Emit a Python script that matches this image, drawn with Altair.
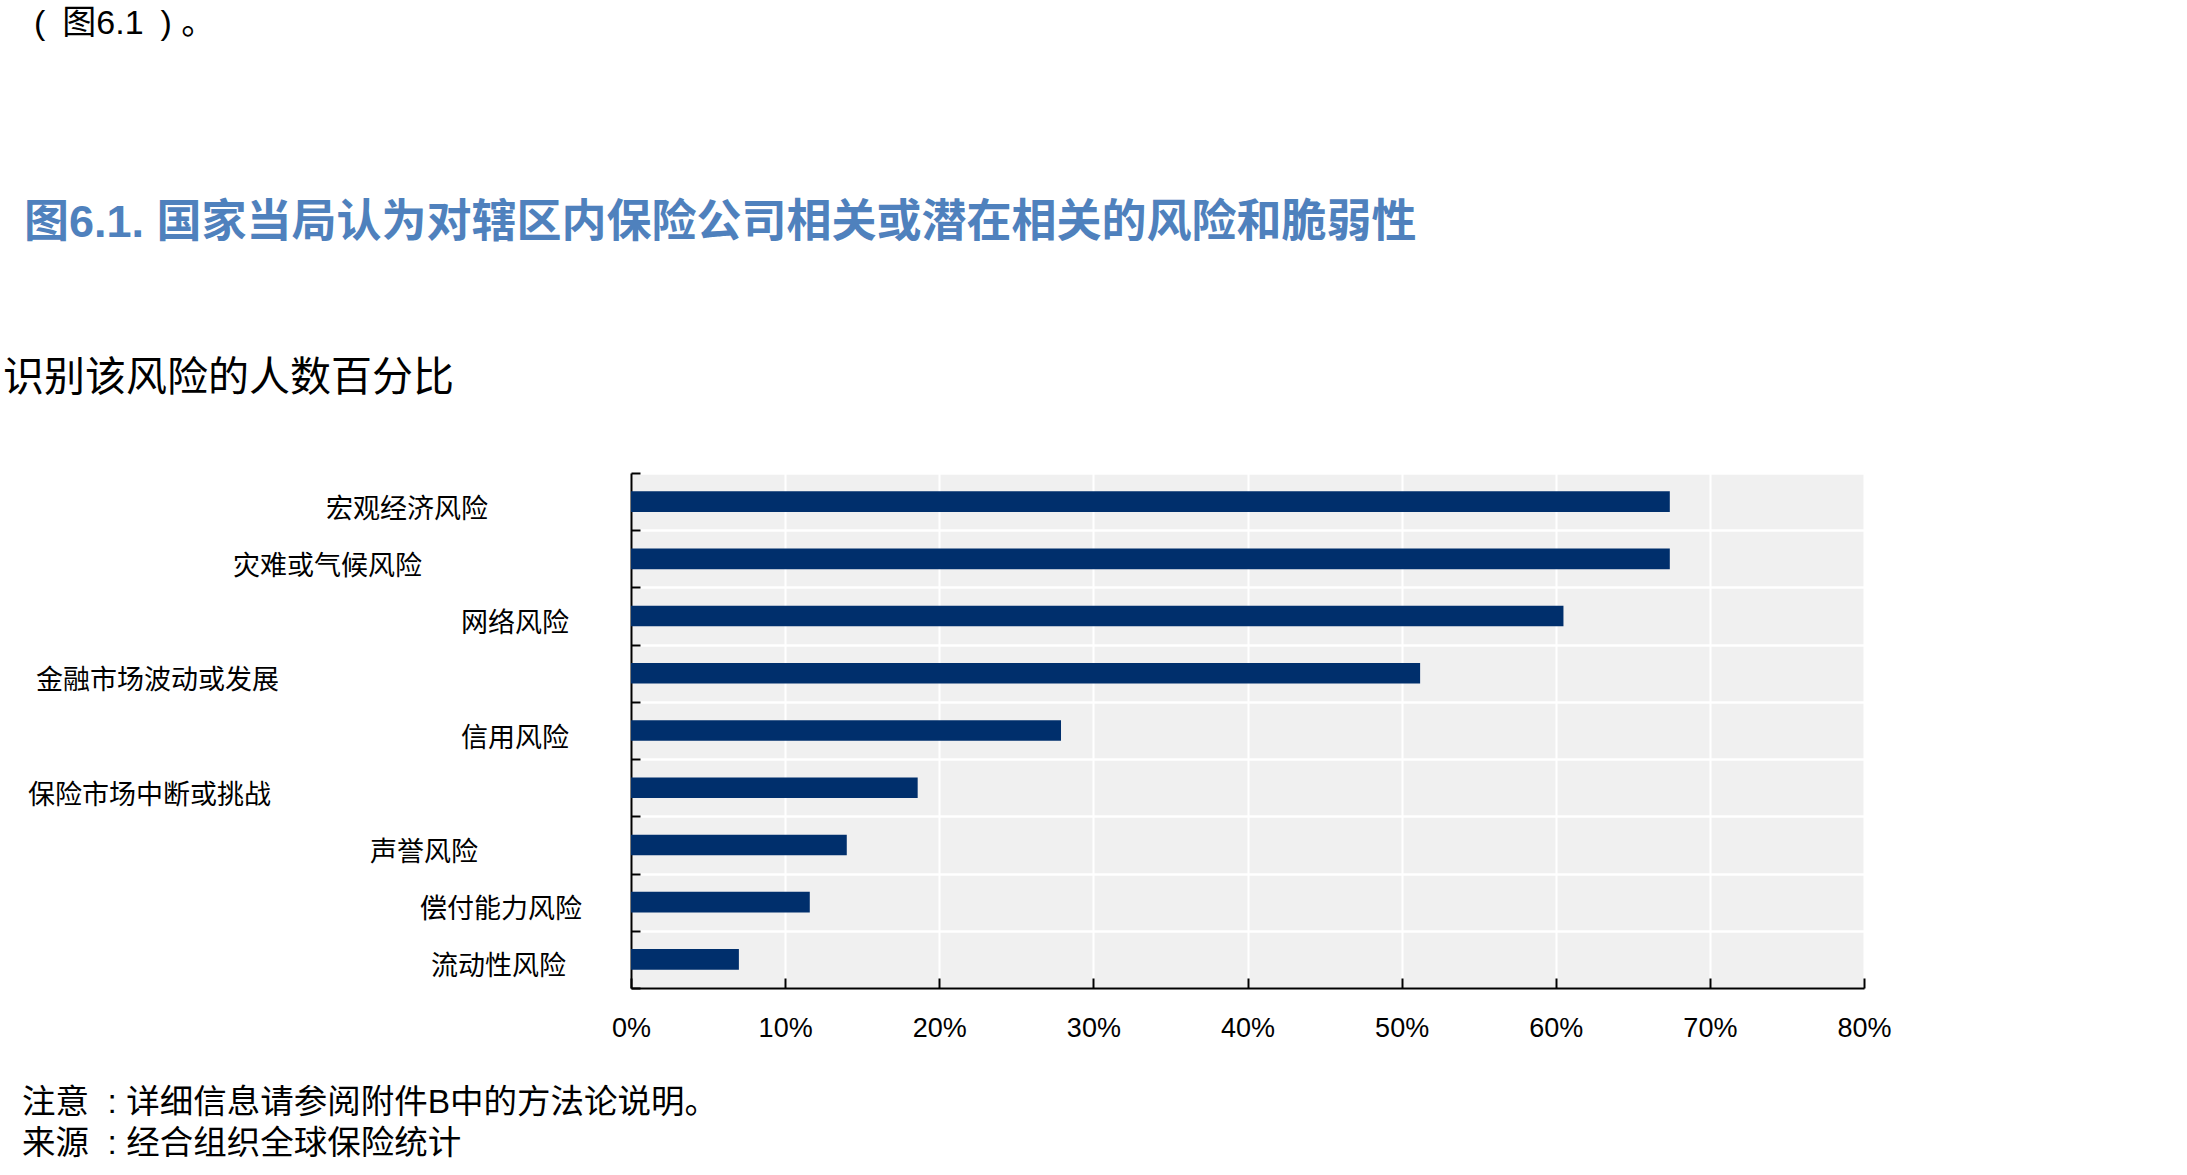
import altair as alt
import pandas as pd

# ---------------- data ----------------
categories = [
    "宏观经济风险",
    "灾难或气候风险",
    "网络风险",
    "金融市场波动或发展",
    "信用风险",
    "保险市场中断或挑战",
    "声誉风险",
    "偿付能力风险",
    "流动性风险",
]
shares = [67.4, 67.4, 60.5, 51.2, 27.9, 18.6, 14.0, 11.6, 7.0]
x_ticks = [0, 10, 20, 30, 40, 50, 60, 70, 80]

NB = "\u00a0"
EN = "\u2002"
top_line = f"({EN}图6.1{EN}){NB}。"
title_text = "图6.1. 国家当局认为对辖区内保险公司相关或潜在相关的风险和脆弱性"
subtitle_text = "识别该风险的人数百分比"
note_text = f"注意{NB}{NB}:{NB}详细信息请参阅附件B中的方法论说明。"
source_text = f"来源{NB}{NB}:{NB}经合组织全球保险统计"

# ---------------- style ----------------
W, H = 1233, 515
LEFT, TOP = 631, 473
FONT = "Liberation Sans, Noto Sans CJK SC, sans-serif"
NARROW = "Liberation Sans Narrow, Arial Narrow, Liberation Sans, sans-serif"
BAR = "#002F6C"
BG = "#F0F0F0"
BLUE = "#4F81BD"

# gap (px) between the y-axis line and the right edge of each category label
label_gap = {
    "宏观经济风险": 143,
    "灾难或气候风险": 209,
    "网络风险": 62,
    "金融市场波动或发展": 352,
    "信用风险": 62,
    "保险市场中断或挑战": 360,
    "声誉风险": 153,
    "偿付能力风险": 49,
    "流动性风险": 65,
}
dx_expr = ""
for k, v in label_gap.items():
    dx_expr += f"datum.risk === '{k}' ? {-v} : "
dx_expr += "0"

df = pd.DataFrame({"risk": categories, "share": shares})

y_enc = alt.Y(
    "risk:N",
    sort=categories,
    scale=alt.Scale(paddingInner=0, paddingOuter=0),
    axis=alt.Axis(
        title=None,
        labels=False,
        tickBand="extent",
        grid=True,
        gridColor="white",
        gridWidth=2.5,
        domainColor="black",
        domainWidth=2,
        tickColor="black",
        tickWidth=2,
        tickSize={"expr": "-9"},
    ),
)

x_enc = alt.X(
    "share:Q",
    scale=alt.Scale(domain=[0, 80], nice=False, zero=True),
    axis=alt.Axis(
        title=None,
        values=x_ticks,
        labelExpr="datum.value + '%'",
        grid=True,
        gridColor="white",
        gridWidth=2,
        domainColor="black",
        domainWidth=2,
        tickColor="black",
        tickWidth=2,
        tickSize={"expr": "-10"},
        labelFont=NARROW,
        labelFontSize=27,
        labelColor="black",
        labelPadding=58,
        labelBaseline="alphabetic",
        labelFlush=False,
    ),
)

bars = alt.Chart(df).mark_bar(color=BAR, height={"band": 0.36}).encode(
    x=x_enc, y=y_enc
)

labels = alt.Chart(df).mark_text(
    align="right",
    baseline="middle",
    dy=8,
    dx={"expr": dx_expr},
    font=FONT,
    fontSize=27,
    color="black",
).encode(
    y=alt.Y("risk:N", sort=categories),
    x=alt.value(0),
    text="risk:N",
)


def free_text(txt, x, y, size, color="black", weight="normal"):
    return alt.Chart(pd.DataFrame({"t": [txt]})).mark_text(
        align="left",
        baseline="alphabetic",
        font=FONT,
        fontSize=size,
        fontWeight=weight,
        color=color,
    ).encode(x=alt.value(x), y=alt.value(y), text="t:N")


texts = [
    free_text(top_line, 34 - LEFT, 34 - TOP, 34),
    free_text(title_text, 24 - LEFT, 237 - TOP, 45, BLUE, "bold"),
    free_text(subtitle_text, 3 - LEFT, 391 - TOP, 41),
    free_text(note_text, 22 - LEFT, 1113 - TOP, 33.5),
    free_text(source_text, 22 - LEFT, 1154 - TOP, 33.5),
]

chart = (
    alt.layer(bars, labels, *texts)
    .properties(
        width=W,
        height=H,
        padding={"left": LEFT, "top": TOP, "right": 2187 - LEFT - W, "bottom": 1175 - TOP - H},
        autosize="none",
        background="white",
    )
    .configure_view(fill=BG, stroke="transparent")
)

chart.save("out.html", embed_options={"renderer": "svg", "actions": False})
